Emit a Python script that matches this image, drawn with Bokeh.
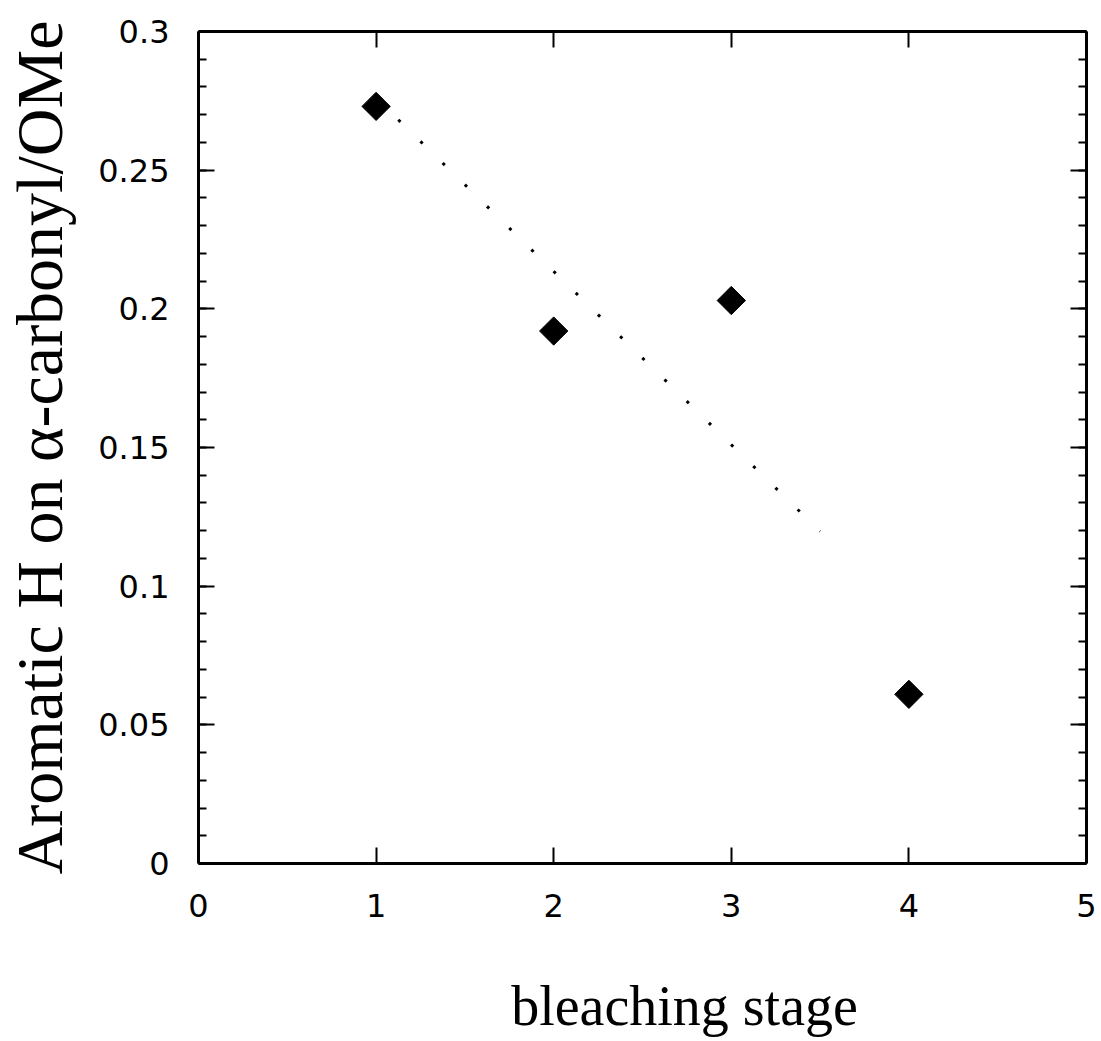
import numpy as np
from bokeh.plotting import figure
from bokeh.models import LinearAxis, FixedTicker, Range1d
from bokeh.embed import file_html
from bokeh.resources import INLINE

# data
stage = [1, 2, 3, 4]
ratio = [0.273, 0.192, 0.203, 0.061]
fit_x_range = [1.0, 3.5]
x_ticks = [0, 1, 2, 3, 4, 5]
x_tick_labels = ["0", "1", "2", "3", "4", "5"]
y_ticks = [0, 0.05, 0.1, 0.15, 0.2, 0.25, 0.3]
y_tick_labels = ["0", "0.05", "0.1", "0.15", "0.2", "0.25", "0.3"]
y_minor = [round(i * 0.01, 2) for i in range(31)]
x_title = "bleaching stage"
y_title = "Aromatic H on \u03b1-carbonyl/OMe"

W, H = 1098, 1040
p = figure(width=W, height=H, output_backend="svg", toolbar_location=None,
           x_range=Range1d(0, 5), y_range=Range1d(0, 0.3),
           min_border_left=197, min_border_right=W - 1086, min_border_top=31,
           min_border_bottom=H - 863,
           x_axis_location=None, y_axis_location=None)
p.grid.visible = False
p.outline_line_color = None
p.background_fill_color = "white"
p.border_fill_color = "white"

tick_font = "DejaVu Sans"
label_font = "Liberation Serif"

def style(ax, labels=True, minor=False):
    ax.axis_line_width = 3
    ax.axis_line_color = "black"
    ax.major_tick_in = 16
    ax.major_tick_out = 0
    ax.major_tick_line_width = 2
    ax.major_tick_line_color = "black"
    if minor:
        ax.minor_tick_in = 8
        ax.minor_tick_out = 0
        ax.minor_tick_line_width = 2
        ax.minor_tick_line_color = "black"
    else:
        ax.minor_tick_line_color = None
    if labels:
        ax.major_label_text_font = tick_font
        ax.major_label_text_font_size = "32px"
        ax.major_label_text_color = "black"
    else:
        ax.major_label_text_font_size = "0px"
        ax.major_label_text_color = None

# bottom axis (title padded with no-break spaces so it sits right of centre)
xb = LinearAxis(ticker=FixedTicker(ticks=x_ticks))
xb.major_label_overrides = {t: l for t, l in zip(x_ticks, x_tick_labels)}
style(xb)
xb.major_label_standoff = 30
xb.axis_label = "\u00a0" * 6 + x_title
xb.axis_label_text_font = label_font
xb.axis_label_text_font_style = "normal"
xb.axis_label_text_font_size = "56px"
xb.axis_label_text_color = "black"
xb.axis_label_standoff = 55
p.add_layout(xb, "below")

# left axis
yl = LinearAxis(ticker=FixedTicker(ticks=y_ticks, minor_ticks=y_minor))
yl.major_label_overrides = {t: l for t, l in zip(y_ticks, y_tick_labels)}
style(yl, minor=True)
yl.major_label_standoff = 29
yl.axis_label = y_title
yl.axis_label_text_font = label_font
yl.axis_label_text_font_style = "normal"
yl.axis_label_text_font_size = "66px"
yl.axis_label_text_color = "black"
yl.axis_label_standoff = 19
p.add_layout(yl, "left")

# top and right axes (ticks only)
xt = LinearAxis(ticker=FixedTicker(ticks=x_ticks))
style(xt, labels=False)
p.add_layout(xt, "above")
yr = LinearAxis(ticker=FixedTicker(ticks=y_ticks, minor_ticks=y_minor))
style(yr, labels=False, minor=True)
p.add_layout(yr, "right")

# regression line
slope, intercept = np.polyfit(stage, ratio, 1)
fx = np.array(fit_x_range)
p.line(fx, slope * fx + intercept, line_color="black", line_width=3, line_dash="3 28")

# points
p.scatter(stage, ratio, marker="square", angle=np.pi / 4, size=20,
          fill_color="black", line_color="black")

open("out.html", "w").write(file_html(p, INLINE))
